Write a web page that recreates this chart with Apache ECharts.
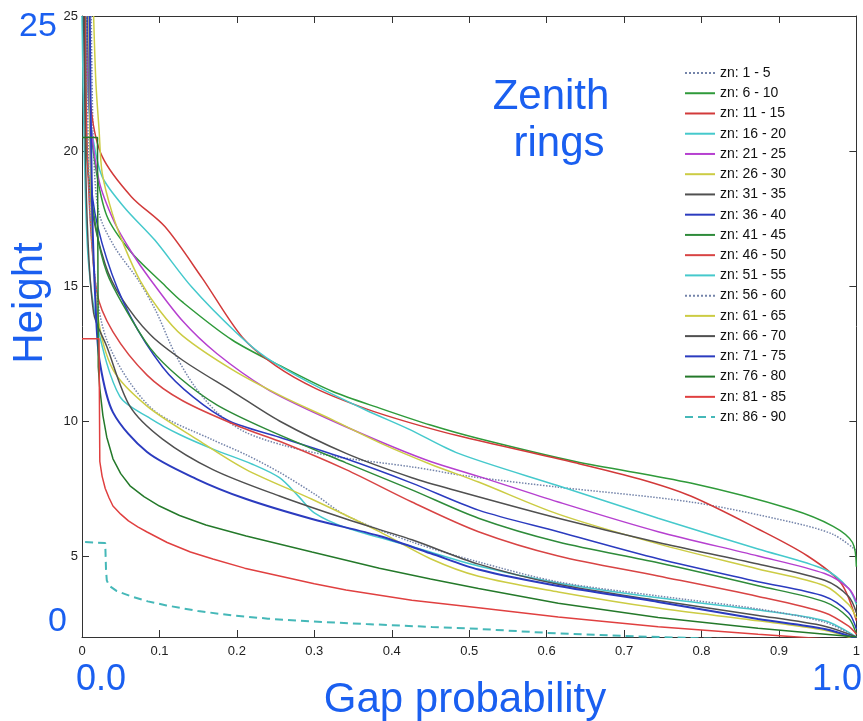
<!DOCTYPE html>
<html>
<head>
<meta charset="utf-8">
<script src="https://cdn.jsdelivr.net/npm/echarts@6/dist/echarts.min.js"></script>
<style>
html,body{margin:0;padding:0;background:#fff;}
#chart{width:863px;height:721px;}
</style>
</head>
<body>
<div id="chart"></div>
<script>
// ---- data: [gap probability, height] per zenith ring ----
const zn1_5 = [[0.012,25],[0.015,20],[0.022,17.7],[0.042,16.45],[0.073,15.2],[0.095,14.1],[0.12,12.5],[0.145,11.3],[0.175,10.3],[0.21,9.6],[0.26,9.1],[0.323,8.7],[0.426,8.3],[0.5,7.95],[0.615,7.55],[0.786,7.0],[0.915,6.26],[0.97,5.8],[1.0,5.2]];
const zn6_10 = [[0.006,25],[0.01,21.5],[0.017,19.5],[0.032,17.6],[0.062,16.3],[0.104,15.1],[0.13,14.4],[0.194,13.0],[0.259,12.0],[0.323,11.1],[0.387,10.45],[0.45,9.85],[0.512,9.35],[0.637,8.5],[0.786,7.7],[0.915,6.74],[0.97,6.1],[0.995,5.5],[1.0,4.6]];
const zn11_15 = [[0.004,25],[0.012,21.5],[0.026,19.8],[0.064,18.3],[0.107,17.2],[0.155,15.3],[0.207,13.1],[0.25,12.05],[0.302,11.2],[0.367,10.45],[0.422,9.95],[0.486,9.45],[0.637,8.45],[0.72,7.85],[0.786,7.22],[0.873,6.0],[0.937,5.0],[0.98,4.0],[1.0,2.6]];
const zn16_20 = [[0.003,25],[0.008,22],[0.014,20.5],[0.026,19.05],[0.055,17.9],[0.094,16.7],[0.142,14.95],[0.2,13.25],[0.238,12.35],[0.302,11.3],[0.367,10.4],[0.422,9.7],[0.486,8.8],[0.615,7.6],[0.744,6.4],[0.873,5.26],[0.959,4.5],[0.99,3.8],[1.0,3.2]];
const zn21_25 = [[0.005,25],[0.01,21.5],[0.022,18.9],[0.042,17.35],[0.064,16.25],[0.088,15.25],[0.13,13.7],[0.174,12.5],[0.238,11.2],[0.297,10.35],[0.384,9.25],[0.45,8.5],[0.512,7.95],[0.615,7.0],[0.744,5.9],[0.873,5.0],[0.959,4.35],[0.99,3.8],[1.0,3.3]];
const zn26_30 = [[0.015,25],[0.018,22.5],[0.022,20.8],[0.026,19.2],[0.039,17.7],[0.055,16.45],[0.075,15.2],[0.1,14.1],[0.13,13.15],[0.194,11.9],[0.259,10.9],[0.323,10.05],[0.384,9.2],[0.45,8.4],[0.512,7.74],[0.615,6.55],[0.744,5.45],[0.873,4.52],[0.959,3.9],[0.99,3.2],[1.0,2.7]];
const zn31_35 = [[0.002,25],[0.005,21],[0.012,18],[0.03,15.8],[0.05,14.6],[0.088,13.2],[0.13,12.25],[0.194,11.1],[0.255,10.0],[0.341,8.8],[0.426,7.9],[0.486,7.4],[0.615,6.4],[0.744,5.5],[0.873,4.7],[0.959,4.1],[0.99,3.5],[1.0,2.9]];
const zn36_40 = [[0.007,25],[0.01,21],[0.014,18.2],[0.032,16.0],[0.062,13.9],[0.104,12.0],[0.143,10.9],[0.19,10.0],[0.255,9.4],[0.341,8.6],[0.426,7.7],[0.512,6.7],[0.615,5.9],[0.744,4.9],[0.873,4.05],[0.959,3.5],[0.99,2.9],[1.0,2.3]];
const zn41_45 = [[0.005,25],[0.006,20],[0.019,17],[0.032,15.5],[0.053,14.3],[0.088,12.7],[0.126,11.6],[0.174,10.6],[0.238,9.7],[0.341,8.45],[0.426,7.45],[0.512,6.4],[0.615,5.52],[0.744,4.75],[0.873,3.9],[0.959,3.3],[0.99,2.7],[1.0,2.1]];
const zn46_50 = [[0.004,25],[0.008,19],[0.019,14.8],[0.04,13.3],[0.084,11.7],[0.13,10.75],[0.207,9.75],[0.255,9.25],[0.341,8.2],[0.426,7.0],[0.512,5.9],[0.615,5.0],[0.744,4.26],[0.873,3.5],[0.959,2.9],[0.99,2.4],[1.0,2.1]];
const zn51_55 = [[0.0,25],[0.003,20],[0.008,16],[0.02,13.5],[0.049,10.9],[0.088,10.1],[0.126,9.5],[0.17,8.95],[0.22,8.4],[0.255,7.9],[0.28,7.2],[0.3,6.6],[0.341,6.05],[0.426,5.35],[0.512,4.63],[0.615,4.0],[0.744,3.45],[0.873,3.0],[0.959,2.6],[1.0,2.0]];
const zn56_60 = [[0.006,25],[0.01,18],[0.02,14.5],[0.032,13.0],[0.06,11.5],[0.097,10.3],[0.169,9.3],[0.212,8.75],[0.255,8.1],[0.3,7.3],[0.341,6.5],[0.426,5.52],[0.512,4.78],[0.615,4.04],[0.744,3.52],[0.873,3.04],[0.959,2.55],[1.0,2.0]];
const zn61_65 = [[0.009,25],[0.012,18],[0.02,14],[0.04,11.9],[0.084,10.55],[0.148,9.33],[0.212,8.2],[0.297,7.1],[0.384,5.9],[0.45,4.9],[0.512,4.25],[0.615,3.67],[0.744,3.07],[0.873,2.6],[0.959,2.25],[1.0,1.9]];
const zn66_70 = [[0.003,25],[0.006,18],[0.015,14],[0.032,12.76],[0.062,10.54],[0.104,9.33],[0.169,8.2],[0.255,7.22],[0.341,6.37],[0.426,5.6],[0.512,4.7],[0.615,3.95],[0.744,3.35],[0.873,2.8],[0.959,2.4],[1.0,2.0]];
const zn71_75 = [[0.01,25],[0.013,18],[0.018,14],[0.023,12.17],[0.04,10.32],[0.084,8.85],[0.148,7.85],[0.212,7.11],[0.297,6.37],[0.384,5.74],[0.45,5.1],[0.512,4.5],[0.615,3.89],[0.744,3.3],[0.873,2.67],[0.959,2.3],[1.0,1.95]];
const zn76_80 = [[0.0,20.5],[0.02,20.5],[0.021,12],[0.023,11.2],[0.027,10.2],[0.032,9.4],[0.04,8.6],[0.05,8.05],[0.062,7.6],[0.08,7.2],[0.1,6.85],[0.126,6.5],[0.16,6.15],[0.212,5.74],[0.297,5.15],[0.384,4.55],[0.45,4.15],[0.512,3.8],[0.615,3.25],[0.744,2.72],[0.873,2.32],[1.0,2.0]];
const zn81_85 = [[0.0,13.05],[0.022,13.05],[0.023,8.5],[0.026,7.95],[0.03,7.5],[0.035,7.15],[0.04,6.85],[0.05,6.55],[0.06,6.3],[0.072,6.08],[0.084,5.89],[0.11,5.5],[0.14,5.15],[0.169,4.89],[0.21,4.55],[0.255,4.26],[0.3,3.97],[0.341,3.74],[0.426,3.36],[0.512,3.08],[0.615,2.74],[0.744,2.38],[0.873,2.1],[1.0,1.85]];
const zn86_90 = [[0.004,5.52],[0.03,5.48],[0.031,4.5],[0.032,4.1],[0.035,3.9],[0.045,3.7],[0.062,3.52],[0.085,3.32],[0.109,3.17],[0.15,2.96],[0.194,2.8],[0.24,2.68],[0.281,2.6],[0.367,2.48],[0.452,2.37],[0.512,2.3],[0.615,2.13],[0.7,2.04],[0.8,1.95],[1.0,1.8]];

const seriesNames = ['zn: 1 - 5','zn: 6 - 10','zn: 11 - 15','zn: 16 - 20','zn: 21 - 25','zn: 26 - 30','zn: 31 - 35','zn: 36 - 40','zn: 41 - 45','zn: 46 - 50','zn: 51 - 55','zn: 56 - 60','zn: 61 - 65','zn: 66 - 70','zn: 71 - 75','zn: 76 - 80','zn: 81 - 85','zn: 86 - 90'];
const seriesData = [zn1_5,zn6_10,zn11_15,zn16_20,zn21_25,zn26_30,zn31_35,zn36_40,zn41_45,zn46_50,zn51_55,zn56_60,zn61_65,zn66_70,zn71_75,zn76_80,zn81_85,zn86_90];
const yTickValues = [5,10,15,20,25];

// styles
const colors = ['#7484aa','#2f9a3a','#d23a3a','#45c9cc','#b640d0','#cccc44','#505050','#2b3bbf','#2e8b3a','#d84444','#45c9cc','#7484aa','#cccc44','#505050','#2b3bbf','#24792a','#e04040','#45b8b8'];
const types = ['dotted','solid','solid','solid','solid','solid','solid','solid','solid','solid','solid','dotted','solid','solid','solid','solid','solid',[8,5]];
const widths = [1.5,1.5,1.5,1.5,1.5,1.5,1.5,1.5,1.5,1.5,1.5,1.5,1.5,1.5,2,1.5,1.5,2];
const smoothing = [0.3,0.3,0.3,0.3,0.3,0.3,0.3,0.3,0.3,0.3,0.3,0.3,0.3,0.3,0.3,false,false,false];

const chart = echarts.init(document.getElementById('chart'), null, {renderer:'canvas'});
const axisCol = '#333';
const FONT = "'Liberation Sans', Arial, Helvetica, sans-serif";
const BLUE = '#1a5ff0';

const series = seriesNames.map((n,i)=>({
  name:n, type:'line', data:seriesData[i], symbol:'none', showSymbol:false,
  smooth:smoothing[i], clip:true,
  lineStyle:{color:colors[i], width:widths[i], type:types[i]},
  itemStyle:{color:colors[i]},
  emphasis:{disabled:true}, animation:false
}));

chart.setOption({
  animation:false,
  backgroundColor:'#fff',
  grid:{left:82, right:4, top:16, bottom:84, containLabel:false},
  legend:{
    orient:'vertical', left:679, top:61,
    itemWidth:30, itemHeight:14, itemGap:6.24,
    itemStyle:{opacity:0, borderWidth:0},
    textStyle:{fontSize:14, color:'#111', fontFamily:FONT},
    data:seriesNames, selectedMode:false
  },
  xAxis:[
    {type:'value', min:0, max:1, interval:0.1, position:'bottom',
     axisLine:{show:true, onZero:false, lineStyle:{color:axisCol, width:1}},
     axisTick:{show:true, inside:true, length:7, lineStyle:{color:axisCol}},
     axisLabel:{fontSize:13, color:'#222', margin:8, fontFamily:FONT},
     splitLine:{show:false}},
    {type:'value', min:0, max:1, interval:0.1, position:'top',
     axisLine:{show:true, onZero:false, lineStyle:{color:axisCol, width:1}},
     axisTick:{show:true, inside:true, length:7, lineStyle:{color:axisCol}},
     axisLabel:{show:false}, splitLine:{show:false}}
  ],
  yAxis:[
    {type:'value', min:2, max:25, position:'left',
     axisLine:{show:true, onZero:false, lineStyle:{color:axisCol, width:1}},
     axisTick:{show:true, inside:true, length:7, customValues:yTickValues, lineStyle:{color:axisCol}},
     axisLabel:{fontSize:13, color:'#222', margin:4, customValues:yTickValues, fontFamily:FONT},
     splitLine:{show:false}},
    {type:'value', min:2, max:25, position:'right',
     axisLine:{show:true, onZero:false, lineStyle:{color:axisCol, width:1}},
     axisTick:{show:true, inside:true, length:7, customValues:yTickValues, lineStyle:{color:axisCol}},
     axisLabel:{show:false}, splitLine:{show:false}}
  ],
  series:series,
  graphic:[
    {type:'text', left:19, top:10, style:{text:'25', fill:BLUE, font:'34px '+FONT}},
    {type:'text', x:30, y:303, rotation:Math.PI/2, style:{text:'Height', fill:BLUE, font:'42px '+FONT, textAlign:'center', textVerticalAlign:'middle'}},
    {type:'text', left:48, top:605, style:{text:'0', fill:BLUE, font:'34px '+FONT}},
    {type:'text', left:76, top:662, style:{text:'0.0', fill:BLUE, font:'36px '+FONT}},
    {type:'text', left:812, top:662, style:{text:'1.0', fill:BLUE, font:'36px '+FONT}},
    {type:'text', x:465, y:700, style:{text:'Gap probability', fill:BLUE, font:'42px '+FONT, textAlign:'center', textVerticalAlign:'middle'}},
    {type:'text', x:551, y:97, style:{text:'Zenith', fill:BLUE, font:'42px '+FONT, textAlign:'center', textVerticalAlign:'middle'}},
    {type:'text', x:559, y:144, style:{text:'rings', fill:BLUE, font:'42px '+FONT, textAlign:'center', textVerticalAlign:'middle'}}
  ]
});
</script>
</body>
</html>
